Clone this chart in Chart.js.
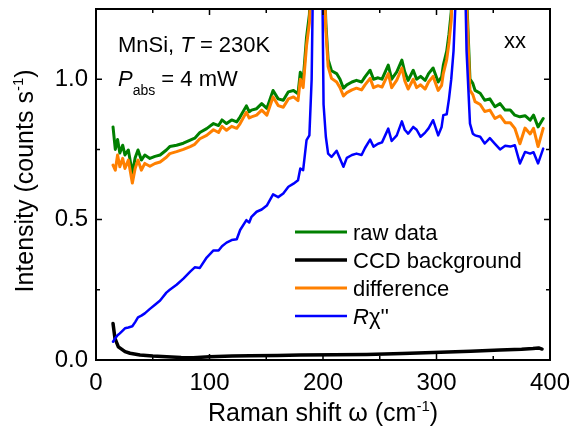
<!DOCTYPE html>
<html><head><meta charset="utf-8">
<script src="https://cdn.jsdelivr.net/npm/chart.js@4/dist/chart.umd.min.js"></script>
<style>html,body{margin:0;padding:0;background:#fff;}canvas{display:block;}</style>
</head><body>
<canvas id="c" width="571" height="426"></canvas>
<script>
// Raman shift (cm^-1) shared by raw data, difference and R chi''
const ramanShift = [
  15, 17, 19, 21, 23.5, 25.5, 28.5, 32, 34.5, 37,
  40, 43, 47.5, 52, 56.5, 62, 65, 71, 77, 83,
  87, 91.5, 97.5, 103.5, 108, 111, 115, 119.5, 124, 127,
  132.5, 135, 137, 141.5, 146, 150.5, 156, 160.5, 165, 169.5,
  174, 178, 180, 182.5, 185.5, 188, 190, 192, 194, 195.5,
  197, 199, 200.5, 202.5, 204.5, 207.5, 212, 215, 218, 221,
  225.5, 229.5, 234, 237, 241.5, 244.5, 248.5, 252, 257.5, 260.5,
  265, 269.5, 272, 275, 279.5, 282.5, 286, 290, 293, 297,
  301.5, 304.5, 306, 309, 311, 313, 315, 317, 319, 320.5,
  322, 324, 326.5, 329.5, 332, 334, 338.5, 342.5, 347, 351.5,
  356, 360.5, 365, 369, 373.5, 378, 382.5, 385.5, 389.5, 394
];
const rawData = [
  0.83, 0.75, 0.785, 0.737, 0.765, 0.73, 0.748, 0.665, 0.72, 0.748,
  0.712, 0.73, 0.718, 0.725, 0.73, 0.748, 0.76, 0.765, 0.772, 0.783,
  0.79, 0.81, 0.824, 0.842, 0.835, 0.855, 0.842, 0.855, 0.848, 0.866,
  0.905, 0.884, 0.89, 0.895, 0.913, 0.896, 0.96, 0.93, 0.925, 0.955,
  0.96, 0.948, 1.025, 0.995, 1.15, 1.23, 1.4, 1.8, 2.3, 2.5,
  2.3, 1.8, 1.45, 1.2, 1.07, 1.03, 1.02, 1.0, 0.968, 0.98,
  0.99, 0.996, 0.99, 1.008, 1.032, 1.0, 1.005, 1.0, 1.05, 1.0,
  1.026, 1.068, 1.026, 0.996, 1.032, 1.0, 1.01, 0.996, 1.02, 1.04,
  0.99, 1.008, 1.05, 1.1, 1.16, 1.24, 1.5, 2.0, 2.5, 2.6,
  2.5, 2.0, 1.3, 1.0, 0.985, 0.96, 0.95, 0.925, 0.93, 0.902,
  0.913, 0.89, 0.89, 0.872, 0.866, 0.87, 0.854, 0.872, 0.83, 0.86
];
const difference = [
  0.694, 0.676, 0.73, 0.688, 0.718, 0.682, 0.712, 0.63, 0.682, 0.712,
  0.676, 0.70, 0.69, 0.70, 0.705, 0.722, 0.735, 0.742, 0.75, 0.76,
  0.768, 0.788, 0.80, 0.82, 0.81, 0.832, 0.818, 0.832, 0.825, 0.842,
  0.882, 0.862, 0.866, 0.872, 0.89, 0.872, 0.937, 0.906, 0.9, 0.93,
  0.937, 0.924, 1.0, 0.97, 1.12, 1.2, 1.37, 1.78, 2.28, 2.48,
  2.28, 1.78, 1.43, 1.18, 1.045, 1.003, 0.99, 0.97, 0.94, 0.952,
  0.962, 0.968, 0.962, 0.98, 1.003, 0.97, 0.977, 0.972, 1.02, 0.97,
  0.997, 1.04, 0.995, 0.965, 1.0, 0.97, 0.98, 0.965, 0.99, 1.01,
  0.96, 0.978, 1.02, 1.07, 1.13, 1.21, 1.47, 1.97, 2.47, 2.57,
  2.47, 1.97, 1.27, 0.96, 0.945, 0.92, 0.91, 0.885, 0.89, 0.86,
  0.87, 0.845, 0.845, 0.825, 0.77, 0.826, 0.805, 0.825, 0.76, 0.825
];
const rChi = [
  0.065, 0.078, 0.088, 0.095, 0.105, 0.113, 0.116, 0.12, 0.135, 0.152,
  0.158, 0.166, 0.182, 0.197, 0.212, 0.24, 0.25, 0.268, 0.29, 0.315,
  0.33, 0.328, 0.365, 0.39, 0.39, 0.405, 0.418, 0.427, 0.43, 0.463,
  0.498, 0.49, 0.51, 0.528, 0.536, 0.55, 0.59, 0.58, 0.593, 0.617,
  0.628, 0.64, 0.682, 0.676, 0.783, 0.80, 1.0, 1.6, 2.2, 2.5,
  2.2, 1.5, 0.91, 0.795, 0.735, 0.723, 0.745, 0.717, 0.688, 0.72,
  0.73, 0.735, 0.73, 0.755, 0.785, 0.76, 0.77, 0.775, 0.824, 0.78,
  0.80, 0.85, 0.82, 0.806, 0.83, 0.82, 0.795, 0.81, 0.825, 0.854,
  0.80, 0.83, 0.872, 0.875, 0.93, 1.0, 1.1, 1.3, 2.2, 2.5,
  2.2, 1.6, 1.1, 0.842, 0.806, 0.80, 0.795, 0.771, 0.79, 0.77,
  0.75, 0.763, 0.76, 0.765, 0.70, 0.741, 0.735, 0.74, 0.70, 0.753
];
// CCD background
const ccdShift = [15, 16.7, 19.7, 25.6, 30, 38.8, 50, 62.3, 75, 85.7, 100, 120, 135.7, 160, 180, 210, 238.5, 270, 297, 330, 356, 375, 385, 390, 393];
const ccdBackground = [0.13, 0.077, 0.047, 0.03, 0.024, 0.018, 0.014, 0.012, 0.009, 0.008, 0.012, 0.014, 0.015, 0.016, 0.018, 0.019, 0.02, 0.023, 0.027, 0.031, 0.036, 0.038, 0.041, 0.043, 0.039];

const seriesLabels = ['raw data', 'CCD background', 'difference', "Rχ''"];
const xTickLabels = [0, 100, 200, 300, 400];
const yTickValues = [0, 0.5, 1.0];
const yTickLabels = ['0.0', '0.5', '1.0'];

const FONT = '"Liberation Sans", Arial, Helvetica, sans-serif';
const GREEN = 'rgb(0,128,0)', ORANGE = 'rgb(255,128,0)', BLUE = 'rgb(0,0,255)', BLACK = '#000';

function pts(xs, ys) { return xs.map((x, i) => ({ x: x, y: ys[i] })); }

function drawRich(ctx, segs, x, y) {
  let cx = x;
  for (const s of segs) {
    ctx.font = s.font;
    ctx.fillText(s.t, cx, y + (s.dy || 0));
    cx += ctx.measureText(s.t).width;
  }
  return cx;
}
function richWidth(ctx, segs) {
  let w = 0;
  for (const s of segs) { ctx.font = s.font; w += ctx.measureText(s.t).width; }
  return w;
}

const framePlugin = {
  id: 'frame',
  afterDraw(chart) {
    const ctx = chart.ctx, a = chart.chartArea, xs = chart.scales.x, ys = chart.scales.y;
    ctx.save();
    ctx.strokeStyle = '#000';
    ctx.lineWidth = 2;
    ctx.strokeRect(a.left, a.top, a.right - a.left, a.bottom - a.top);
    ctx.lineWidth = 1.5;
    ctx.beginPath();
    for (const t of xs.ticks) {
      const px = xs.getPixelForValue(t.value);
      const L = xTickLabels.includes(t.value) ? 6 : 4;
      ctx.moveTo(px, a.bottom); ctx.lineTo(px, a.bottom - L);
      ctx.moveTo(px, a.top); ctx.lineTo(px, a.top + L);
    }
    for (const t of ys.ticks) {
      const py = ys.getPixelForValue(t.value);
      const major = yTickValues.some(v => Math.abs(v - t.value) < 1e-9);
      const L = major ? 6 : 4;
      ctx.moveTo(a.left, py); ctx.lineTo(a.left + L, py);
      ctx.moveTo(a.right, py); ctx.lineTo(a.right - L, py);
    }
    ctx.stroke();

    ctx.fillStyle = '#000';
    ctx.textBaseline = 'alphabetic';
    ctx.textAlign = 'left';
    const n22 = '22px ' + FONT, i22 = 'italic 22px ' + FONT;
    // annotations
    drawRich(ctx, [{ t: 'MnSi, ', font: n22 }, { t: 'T', font: i22 }, { t: ' = 230K', font: n22 }], 118, 52);
    drawRich(ctx, [{ t: 'P', font: i22 }, { t: 'abs', font: '14px ' + FONT, dy: 9 }, { t: ' = 4 mW', font: n22 }], 118, 86);
    drawRich(ctx, [{ t: 'xx', font: n22 }], 504, 48);

    // legend
    const rows = [232, 260, 288, 316];
    chart.data.datasets.forEach((ds) => {
      const li = seriesLabels.indexOf(ds.label);
      const yy = rows[li];
      ctx.strokeStyle = ds.borderColor;
      ctx.lineWidth = ds.borderWidth;
      ctx.beginPath(); ctx.moveTo(295, yy); ctx.lineTo(347, yy); ctx.stroke();
      ctx.fillStyle = '#000';
      if (ds.label === "Rχ''") {
        drawRich(ctx, [{ t: 'R', font: i22 }, { t: "χ''", font: n22 }], 353, yy + 8);
      } else {
        drawRich(ctx, [{ t: ds.label, font: n22 }], 353, yy + 8);
      }
    });

    // axis titles
    const n25 = '25px ' + FONT, s15 = '15px ' + FONT;
    const xt = [{ t: 'Raman shift ω (cm', font: n25 }, { t: '-1', font: s15, dy: -10 }, { t: ')', font: n25 }];
    const xw = richWidth(ctx, xt);
    drawRich(ctx, xt, (a.left + a.right) / 2 - xw / 2, 421);
    const yt = [{ t: 'Intensity (counts s', font: n25 }, { t: '-1', font: s15, dy: -10 }, { t: ')', font: n25 }];
    const yw = richWidth(ctx, yt);
    ctx.save();
    ctx.translate(33, 181);
    ctx.rotate(-Math.PI / 2);
    drawRich(ctx, yt, -yw / 2, 0);
    ctx.restore();
    ctx.restore();
  }
};

new Chart(document.getElementById('c'), {
  type: 'line',
  data: {
    datasets: [
      { label: seriesLabels[0], data: pts(ramanShift, rawData), borderColor: GREEN, borderWidth: 3, order: 4 },
      { label: seriesLabels[1], data: pts(ccdShift, ccdBackground), borderColor: BLACK, borderWidth: 3.5, order: 2 },
      { label: seriesLabels[2], data: pts(ramanShift, difference), borderColor: ORANGE, borderWidth: 3, order: 3 },
      { label: seriesLabels[3], data: pts(ramanShift, rChi), borderColor: BLUE, borderWidth: 2.5, order: 1 }
    ]
  },
  options: {
    responsive: false,
    animation: false,
    devicePixelRatio: 1,
    datasets: { line: { pointRadius: 0, tension: 0, fill: false, borderJoinStyle: 'round', borderCapStyle: 'round' } },
    layout: { padding: { left: 0, top: 9, right: 21, bottom: 0 } },
    plugins: { legend: { display: false }, tooltip: { enabled: false }, title: { display: false } },
    scales: {
      x: {
        type: 'linear', min: 0, max: 400,
        grid: { display: false, drawTicks: false },
        border: { display: false },
        ticks: {
          stepSize: 50, padding: 9, color: '#000', maxRotation: 0, autoSkip: false,
          font: { family: FONT, size: 24 },
          callback: (v) => xTickLabels.includes(v) ? String(v) : ''
        },
        afterFit: (s) => { s.height = 66; s.paddingLeft = 0; s.paddingRight = 0; }
      },
      y: {
        type: 'linear', min: 0, max: 1.25,
        grid: { display: false, drawTicks: false },
        border: { display: false },
        ticks: {
          stepSize: 0.25, padding: 8, color: '#000', autoSkip: false,
          font: { family: FONT, size: 24 },
          callback: (v) => {
            const k = yTickValues.findIndex(t => Math.abs(t - v) < 1e-9);
            return k >= 0 ? yTickLabels[k] : '';
          }
        },
        afterFit: (s) => { s.width = 96; s.paddingTop = 0; s.paddingBottom = 0; }
      }
    }
  },
  plugins: [framePlugin]
});
</script>
</body></html>
